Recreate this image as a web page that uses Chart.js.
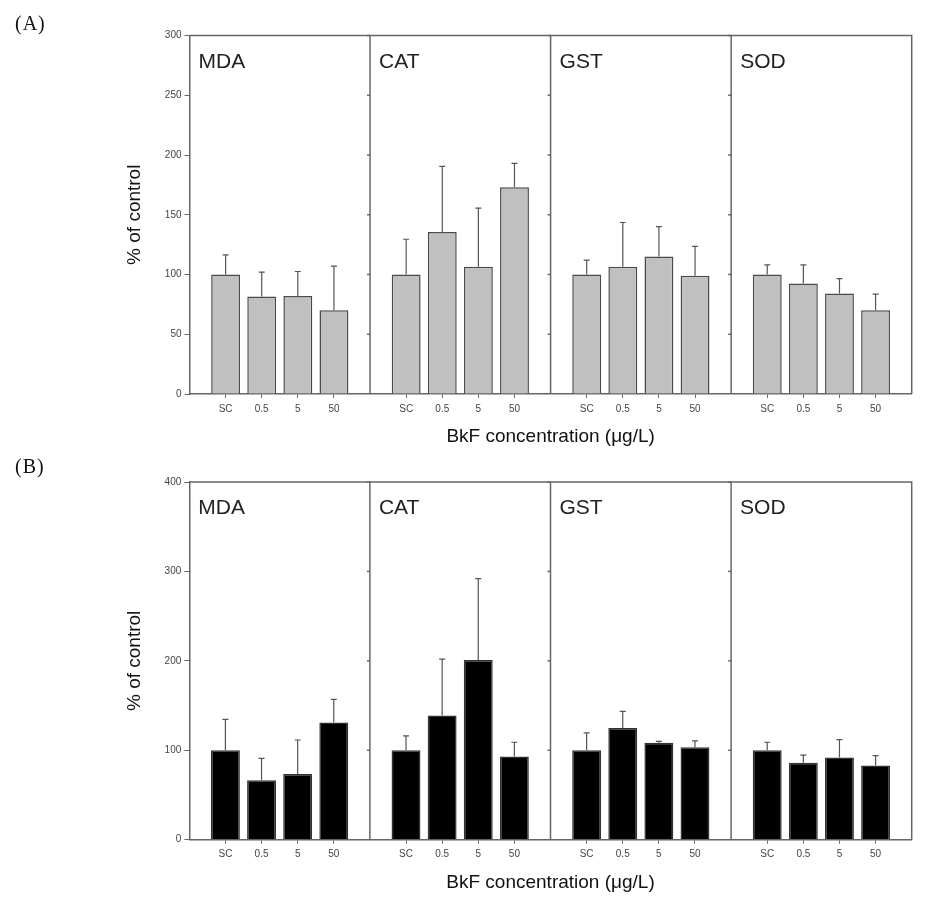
<!DOCTYPE html>
<html>
<head>
<meta charset="utf-8">
<script src="https://cdn.jsdelivr.net/npm/chart.js@4.4.0/dist/chart.umd.min.js"></script>
<style>
  body { margin: 0; background: #fff; }
  #wrap { position: relative; width: 930px; height: 903px; }
  .row { position: absolute; left: 0; width: 930px; }
  .tag { position: absolute; left: 15px; font-family: "Liberation Serif", serif; font-size: 20px; line-height: 20px; letter-spacing: 1px; color: #111; }
</style>
</head>
<body>
<div id="wrap">
  <div class="row" style="top:0;height:450px"><canvas id="chartA"></canvas></div>
  <div class="row" style="top:450px;height:453px"><canvas id="chartB"></canvas></div>
  <div class="tag" style="top:13px">(A)</div>
  <div class="tag" style="top:456px">(B)</div>
</div>
<script>
const concLabels = ['SC', '0.5', '5', '50'];
const enzymes = ['MDA', 'CAT', 'GST', 'SOD'];

// panel (A)
const mdaA = [100, 81.5, 82, 70];
const mdaAErr = [16.5, 20.5, 20.5, 37];
const catA = [100, 135.5, 106.5, 173];
const catAErr = [29.5, 55, 49, 20];
const gstA = [100, 106.5, 115, 99];
const gstAErr = [12, 37, 25, 24.5];
const sodA = [100, 92.5, 84, 70];
const sodAErr = [8, 15.5, 12.5, 13.5];

// panel (B)
const mdaB = [100, 66.5, 73.5, 131];
const mdaBErr = [34.5, 24.5, 38, 26];
const catB = [100, 139, 201, 93];
const catBErr = [16, 63, 91, 16];
const gstB = [100, 125, 108.5, 103.5];
const gstBErr = [19.5, 18.5, 1.5, 7];
const sodB = [100, 86, 92, 83];
const sodBErr = [9, 8.5, 20, 11];

const FONT = "'Liberation Sans', Arial, sans-serif";
const AXIS = '#666';

// x positions: 5 slots per panel, bars in slots 1..4
function barPoints(groups) {
    const pts = [];
    groups.forEach((vals, p) => {
        vals.forEach((v, i) => pts.push({ x: p * 5 + i + 1, y: v }));
    });
    return pts;
}

const panelPlugin = {
    id: 'panels',
    afterDatasetsDraw(chart) {
        const { ctx, chartArea: a, scales } = chart;
        const x = scales.x, y = scales.y;
        ctx.save();
        ctx.strokeStyle = AXIS;
        ctx.lineWidth = 1.5;
        // frame top and right
        ctx.beginPath();
        ctx.moveTo(a.left, a.top);
        ctx.lineTo(a.right, a.top);
        ctx.lineTo(a.right, a.bottom);
        ctx.stroke();
        // dividers with small outside ticks
        [5, 10, 15].forEach(v => {
            const px = x.getPixelForValue(v);
            ctx.beginPath();
            ctx.moveTo(px, a.top);
            ctx.lineTo(px, a.bottom);
            ctx.stroke();
            y.ticks.forEach(t => {
                if (t.value === 0) return;
                const py = y.getPixelForValue(t.value);
                ctx.beginPath();
                ctx.moveTo(px - 3, py);
                ctx.lineTo(px, py);
                ctx.stroke();
            });
        });
        // error bars
        const errs = chart.options.plugins.panels.errors;
        const meta = chart.getDatasetMeta(0);
        ctx.strokeStyle = '#555';
        ctx.lineWidth = 1.2;
        meta.data.forEach((bar, i) => {
            const pt = chart.data.datasets[0].data[i];
            const top = y.getPixelForValue(pt.y);
            const ey = y.getPixelForValue(pt.y + errs[i]);
            ctx.beginPath();
            ctx.moveTo(bar.x, top);
            ctx.lineTo(bar.x, ey);
            ctx.moveTo(bar.x - 3, ey);
            ctx.lineTo(bar.x + 3, ey);
            ctx.stroke();
        });
        // enzyme names
        ctx.fillStyle = '#222';
        ctx.font = '21px ' + FONT;
        ctx.textBaseline = 'alphabetic';
        enzymes.forEach((name, p) => {
            ctx.fillText(name, x.getPixelForValue(p * 5) + 9, a.top + 32);
        });
        ctx.restore();
    }
};

function makeChart(id, groups, errGroups, yMax, yStep, fill, border, pad, xHeight, titlePad) {
    const tickVals = [];
    for (let p = 0; p < 4; p++) for (let i = 1; i <= 4; i++) tickVals.push(p * 5 + i);

    return new Chart(document.getElementById(id), {
        type: 'bar',
        data: {
            datasets: [{
                data: barPoints(groups),
                backgroundColor: fill,
                borderColor: border,
                borderWidth: 1.5,
                barPercentage: 0.8,
                categoryPercentage: 1
            }]
        },
        options: {
            responsive: true,
            maintainAspectRatio: false,
            animation: false,
            layout: { padding: pad },
            plugins: {
                legend: { display: false },
                tooltip: { enabled: false },
                panels: { errors: errGroups.flat() }
            },
            scales: {
                x: {
                    type: 'linear',
                    min: 0,
                    max: 20,
                    offset: false,
                    afterBuildTicks: s => { s.ticks = tickVals.map(v => ({ value: v })); },
                    afterFit: s => { s.height = xHeight; },
                    grid: { drawOnChartArea: false, offset: false, tickLength: 4, color: AXIS },
                    border: { color: AXIS, width: 1.5 },
                    ticks: {
                        autoSkip: false,
                        maxRotation: 0,
                        padding: 5,
                        color: '#444',
                        font: { family: FONT, size: 10 },
                        callback: v => concLabels[Math.round(v) % 5 - 1]
                    },
                    title: {
                        display: true,
                        text: 'BkF concentration (\u03bcg/L)',
                        color: '#111',
                        font: { family: FONT, size: 19 },
                        padding: { top: 0, bottom: titlePad }
                    }
                },
                y: {
                    min: 0,
                    max: yMax,
                    afterFit: s => { s.width = 70; },
                    grid: { drawOnChartArea: false, tickLength: 5, color: AXIS },
                    border: { color: AXIS, width: 1.5 },
                    ticks: {
                        stepSize: yStep,
                        padding: 3,
                        color: '#444',
                        font: { family: FONT, size: 10 }
                    },
                    title: {
                        display: true,
                        text: '% of control',
                        color: '#111',
                        font: { family: FONT, size: 19 },
                        padding: { top: 4, bottom: 0 }
                    }
                }
            }
        },
        plugins: [panelPlugin]
    });
}

makeChart('chartA',
    [mdaA, catA, gstA, sodA],
    [mdaAErr, catAErr, gstAErr, sodAErr],
    300, 50, '#c0c0c0', '#4a4a4a',
    { left: 119.5, right: 18.3, top: 35.5, bottom: 0 }, 56, 2);

makeChart('chartB',
    [mdaB, catB, gstB, sodB],
    [mdaBErr, catBErr, gstBErr, sodBErr],
    400, 100, '#000000', '#333333',
    { left: 119.3, right: 18.3, top: 32, bottom: 0 }, 63.3, 9);
</script>
</body>
</html>
